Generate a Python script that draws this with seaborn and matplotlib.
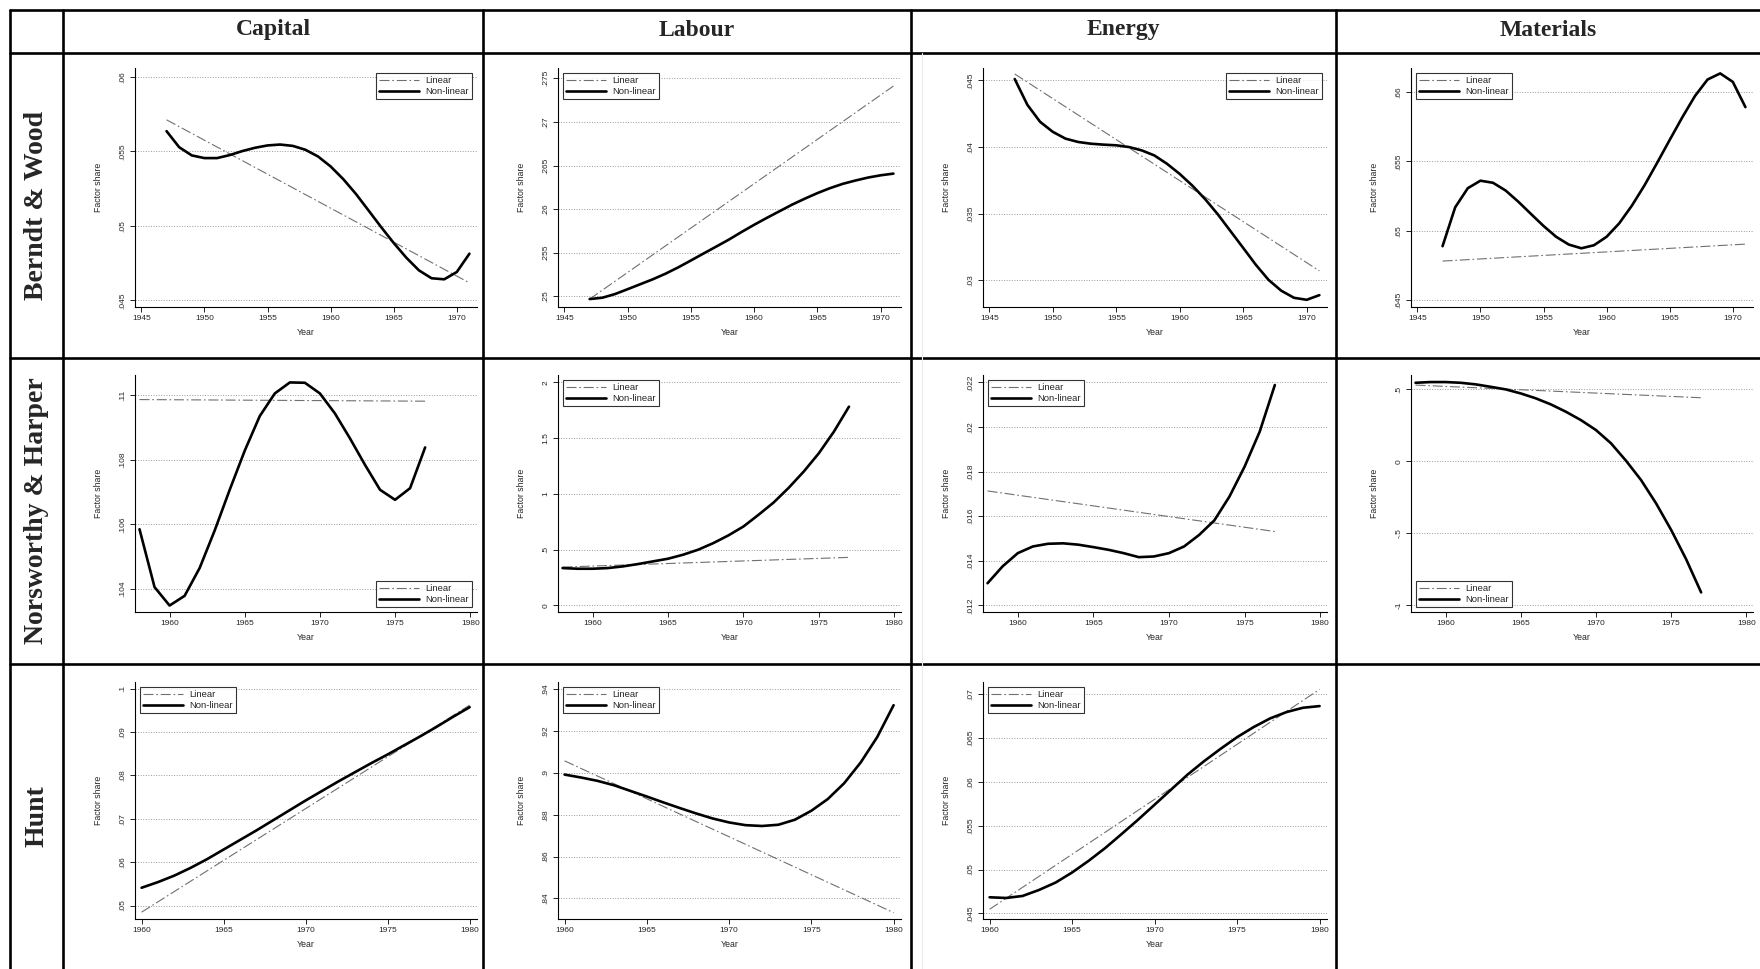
import numpy as np
import pandas as pd
import matplotlib
matplotlib.use('Agg')
import matplotlib.pyplot as plt
import seaborn as sns
from matplotlib.lines import Line2D
from matplotlib.ticker import FuncFormatter

# --- данные ---
factors = ['Capital', 'Labour', 'Energy', 'Materials']
studies = ['Berndt & Wood', 'Norsworthy & Harper', 'Hunt']

bw_years = list(range(1947, 1972))
nh_years = list(range(1958, 1978))
hunt_years = list(range(1960, 1981))

# Berndt & Wood (non-linear)
bw_capital = [.05636, .05528, .05473, .05455, .05455, .05475, .05502, .05524, .05540, .05546,
              .05537, .05511, .05466, .05399, .05314, .05215, .05104, .04992, .04885, .04786,
              .04701, .04648, .04641, .04690, .04813]
bw_labour = [.24970, .24985, .25027, .25083, .25140, .25197, .25261, .25333, .25412, .25492,
             .25571, .25651, .25738, .25821, .25900, .25976, .26052, .26120, .26184, .26241,
             .26290, .26328, .26362, .26388, .26407]
bw_energy = [.04510, .04316, .04189, .04114, .04063, .04038, .04025, .04018, .04013, .04000,
             .03975, .03937, .03874, .03798, .03710, .03609, .03495, .03369, .03243, .03116,
             .03003, .02922, .02869, .02854, .02889]
bw_materials = [.64889, .65169, .65307, .65361, .65346, .65290, .65210, .65122, .65035, .64957,
                .64901, .64874, .64896, .64957, .65054, .65181, .65327, .65489, .65655, .65818,
                .65971, .66090, .66134, .66073, .65891]

# Norsworthy & Harper (non-linear)
nh_capital = [.10585, .10406, .10349, .10379, .10465, .10581, .10707, .10828, .10935, .11005,
              .11039, .11038, .11005, .10943, .10866, .10784, .10707, .10676, .10712, .10838]
nh_labour = [.334, .328, .328, .334, .349, .370, .394, .418, .454, .499,
             .558, .627, .707, .812, .922, 1.054, 1.200, 1.364, 1.558, 1.782]
nh_energy = [.01299, .01375, .01434, .01464, .01476, .01478, .01472, .01461, .01449, .01434,
             .01416, .01419, .01434, .01464, .01516, .01581, .01688, .01822, .01979, .02188]
nh_materials = [.546, .551, .551, .546, .535, .518, .500, .472, .438, .396,
                .345, .287, .218, .126, .005, -.129, -.291, -.475, -.679, -.910]

# Hunt (non-linear)
hunt_capital = [.0541, .0554, .0569, .0587, .0607, .0629, .0651, .0673, .0696, .0719, .0742,
                .0764, .0786, .0807, .0828, .0848, .0869, .0890, .0912, .0935, .0957]
hunt_labour = [.8992, .8978, .8962, .8941, .8914, .8887, .8859, .8832, .8806, .8782, .8763,
               .8750, .8746, .8752, .8776, .8819, .8875, .8951, .9050, .9171, .9324]
hunt_energy = [.04683, .04675, .04698, .04767, .04851, .04966, .05099, .05244, .05405, .05569,
               .05740, .05912, .06084, .06237, .06378, .06511, .06626, .06725, .06798, .06847,
               .06866]

# Linear trend: value at first and last year
bw_capital_lin = [.05712, .04617]
bw_labour_lin = [.2497, .2741]
bw_energy_lin = [.04548, .03071]
bw_materials_lin = [.64782, .64904]
nh_capital_lin = [.10986, .10981]
nh_labour_lin = [.343, .430]
nh_energy_lin = [.01713, .01531]
nh_materials_lin = [.530, .442]
hunt_capital_lin = [.04847, .09617]
hunt_labour_lin = [.90576, .83315]
hunt_energy_lin = [.04546, .07057]

# --- оформление панелей ---
panels = {
    (0, 0): (bw_years, bw_capital, bw_capital_lin, (.04455, .0606), [.045, .05, .055, .06], 'upper right'),
    (0, 1): (bw_years, bw_labour, bw_labour_lin, (.24879, .27617), [.25, .255, .26, .265, .27, .275], 'upper left'),
    (0, 2): (bw_years, bw_energy, bw_energy_lin, (.0280, .04593), [.03, .035, .04, .045], 'upper right'),
    (0, 3): (bw_years, bw_materials, bw_materials_lin, (.64451, .66173), [.645, .65, .655, .66], 'upper left'),
    (1, 0): (nh_years, nh_capital, nh_capital_lin, (.10329, .11062), [.104, .106, .108, .11], 'lower right'),
    (1, 1): (nh_years, nh_labour, nh_labour_lin, (-.06, 2.066), [0, .5, 1, 1.5, 2], 'upper left'),
    (1, 2): (nh_years, nh_energy, nh_energy_lin, (.0117, .02233), [.012, .014, .016, .018, .02, .022], 'upper left'),
    (1, 3): (nh_years, nh_materials, nh_materials_lin, (-1.046, .60), [-1, -.5, 0, .5], 'lower left'),
    (2, 0): (hunt_years, hunt_capital, hunt_capital_lin, (.0469, .1015), [.05, .06, .07, .08, .09, .1], 'upper left'),
    (2, 1): (hunt_years, hunt_labour, hunt_labour_lin, (.8301, .9435), [.84, .86, .88, .9, .92, .94], 'upper left'),
    (2, 2): (hunt_years, hunt_energy, hunt_energy_lin, (.04435, .07141), [.045, .05, .055, .06, .065, .07], 'upper left'),
}
row_xlim = [(1944.5, 1971.6), (1957.7, 1980.45), (1959.6, 1980.45)]
row_xticks = [list(range(1945, 1971, 5)), list(range(1960, 1981, 5)), list(range(1960, 1981, 5))]

W, H = 1760, 969
col_edges = [10, 63, 483, 911, 1336, 1760]
row_edges = [10, 53, 358, 664, 969]
axis_x = [(135, 477), (558, 901), (983, 1327), (1411, 1753)]
axis_y = [(68, 307), (375, 612), (682, 919)]


def stata_fmt(v, pos=None):
    s = f"{v:.4f}".rstrip('0').rstrip('.')
    if s in ('-0', ''):
        s = '0'
    if s.startswith('0.'):
        s = s[1:]
    elif s.startswith('-0.'):
        s = '-' + s[2:]
    return s


sns.set_style('white')
plt.rcParams['font.family'] = ['Liberation Sans', 'DejaVu Sans']

fig = plt.figure(figsize=(W / 100, H / 100), dpi=100)

# сетка таблицы
for x in col_edges[:-1]:
    fig.add_artist(Line2D([x / W, x / W], [0, 1 - row_edges[0] / H], color='black', lw=1.9))
for y in row_edges[:-1]:
    fig.add_artist(Line2D([col_edges[0] / W, 1], [1 - y / H, 1 - y / H], color='black', lw=1.9))
fig.add_artist(Line2D([922 / W, 922 / W], [0, 1 - 53 / H], color='#ececec', lw=0.8))

serif = ['Liberation Serif', 'DejaVu Serif']
for j, name in enumerate(factors):
    cx = (col_edges[j + 1] + col_edges[j + 2]) / 2
    fig.text(cx / W, 1 - 30 / H, name, ha='center', va='center', fontsize=17,
             fontweight='bold', family=serif)
for i, name in enumerate(studies):
    cy = (row_edges[i + 1] + row_edges[i + 2]) / 2
    fig.text(36.5 / W, 1 - cy / H, name, ha='center', va='center', rotation=90,
             fontsize=20, fontweight='bold', family=serif)

for (i, j), (years, nonlin, lin, ylim, yticks, loc) in panels.items():
    l, r = axis_x[j]
    t, b = axis_y[i]
    ax = fig.add_axes([l / W, 1 - b / H, (r - l) / W, (b - t) / H])
    sns.lineplot(x=[years[0], years[-1]], y=lin, ax=ax, color='#707070', lw=0.8,
                 linestyle=(0, (9, 2.5, 1.5, 2.5)), label='Linear')
    sns.lineplot(x=years, y=nonlin, ax=ax, color='black', lw=1.9, label='Non-linear')

    ax.set_xlim(row_xlim[i])
    ax.set_ylim(ylim)
    ax.set_xticks(row_xticks[i])
    ax.set_yticks(yticks)
    ax.yaxis.set_major_formatter(FuncFormatter(stata_fmt))
    ax.set_axisbelow(True)
    ax.yaxis.grid(True, linestyle=':', color='#9a9a9a', lw=0.7)
    ax.xaxis.grid(False)
    for side in ('top', 'right'):
        ax.spines[side].set_visible(False)
    for side in ('left', 'bottom'):
        ax.spines[side].set_color('black')
        ax.spines[side].set_linewidth(0.8)
    ax.tick_params(direction='out', length=3.6, width=0.6, labelsize=6, pad=2.5,
                   color='black', left=True, bottom=True)
    for lab in ax.get_yticklabels():
        lab.set_rotation(90)
        lab.set_verticalalignment('center')
    ax.set_xlabel('Year', fontsize=6.3, labelpad=4)
    ax.set_ylabel('Factor share', fontsize=6.3, labelpad=12)

    leg = ax.legend(loc=loc, fontsize=6.8, frameon=True, fancybox=False, edgecolor='black',
                    handlelength=4.2, borderpad=0.35, labelspacing=0.2, handletextpad=0.7,
                    borderaxespad=0.5)
    leg.get_frame().set_linewidth(0.8)

fig.savefig('out.png', dpi=100)
